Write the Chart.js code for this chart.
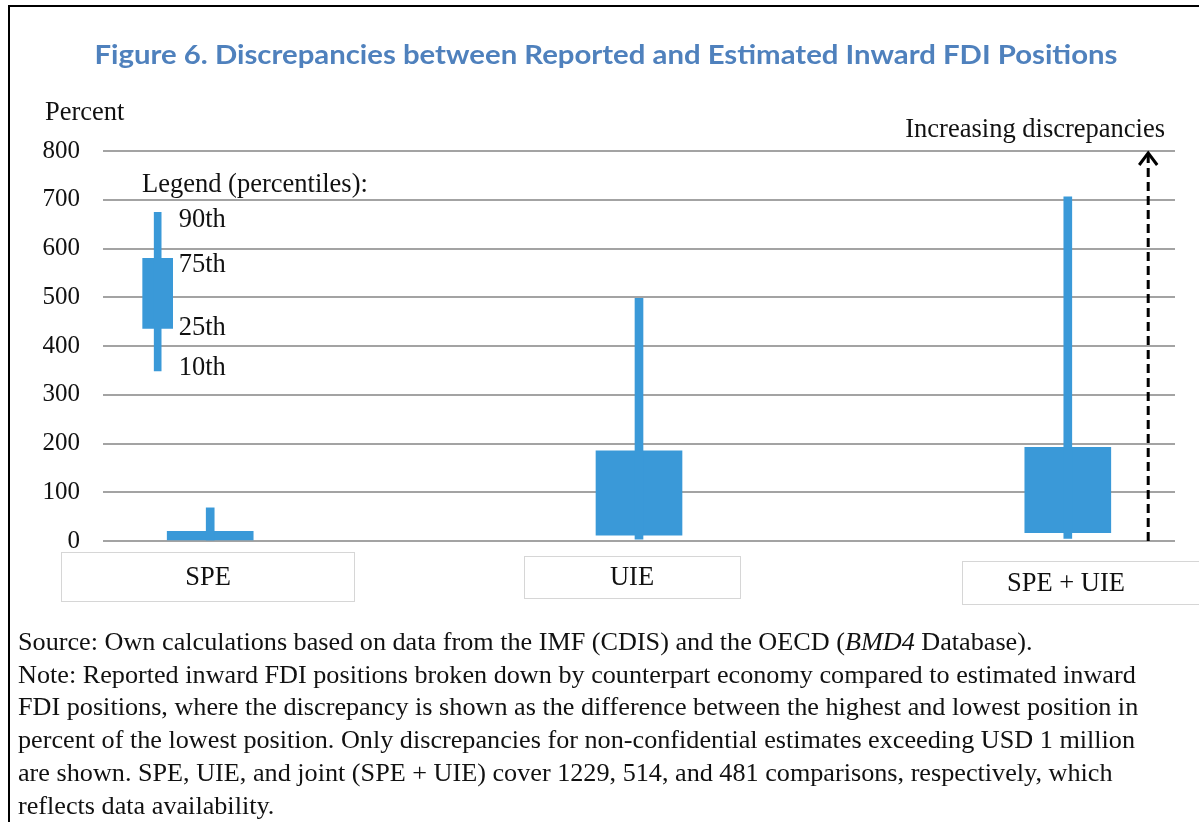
<!DOCTYPE html>
<html>
<head>
<meta charset="utf-8">
<script src="https://cdn.jsdelivr.net/npm/chart.js@4.4.0/dist/chart.umd.min.js"></script>
<style>
html, body { margin: 0; padding: 0; background: #fff; }
body { width: 1199px; height: 822px; position: relative; overflow: hidden; }
#frame { position: absolute; left: 8px; top: 5px; right: -10px; bottom: -10px;
         border-left: 2px solid #000; border-top: 2px solid #000; }
#cv { position: absolute; left: 0; top: 0; }
#note { position: absolute; left: 18px; top: 626px; color: #111; white-space: nowrap;
        font-family: "Liberation Serif", "Times New Roman", serif; font-size: 26.2px; line-height: 32.7px; }
</style>
</head>
<body>
<div id="frame"></div>
<canvas id="cv" width="1199" height="822"></canvas>
<div id="note">Source: Own calculations based on data from the IMF (CDIS) and the OECD (<i>BMD4</i> Database).<br>Note: Reported inward FDI positions broken down by counterpart economy compared to estimated inward<br>FDI positions, where the discrepancy is shown as the difference between the highest and lowest position in<br>percent of the lowest position. Only discrepancies for non-confidential estimates exceeding USD 1 million<br>are shown. SPE, UIE, and joint (SPE + UIE) cover 1229, 514, and 481 comparisons, respectively, which<br>reflects data availability.</div>
<script>
// data (percent)
var Categories = ['SPE', 'UIE', 'SPE + UIE'];
var CategoryPos = [0.1, 0.5, 0.9];
var P10 = [0, 3.5, 5.5];
var P25 = [0, 12, 17];
var P75 = [20, 185, 192];
var P90 = [68, 498, 706];

// legend example box
var LegendPos = 0.051;
var LegendLabels = ['10th', '25th', '75th', '90th'];
var LegendValues = [349, 436, 580, 674];

var YTicks = [0, 100, 200, 300, 400, 500, 600, 700, 800];
var ArrowPos = 0.975;

var TitleText = 'Figure 6. Discrepancies between Reported and Estimated Inward FDI Positions';
var BoxColor = '#3a99d8';
var SerifFont = '"Liberation Serif", "Times New Roman", serif';

// label boxes under the chart (page pixels)
var LabelBoxes = [
    { x: 61, y: 552, w: 293, h: 49, tx: 208, ty: 578 },
    { x: 524, y: 556, w: 216, h: 42, tx: 632, ty: 578 },
    { x: 962, y: 561, w: 237, h: 43, tx: 1066, ty: 584 }
];

function pairs(pos, lo, hi) {
    var out = [];
    for (var i = 0; i < lo.length; i++) {
        out.push({ x: pos[i], y: [lo[i], hi[i]] });
    }
    return out;
}

var overlay = {
    id: 'overlay',
    afterDraw: function (chart) {
        var ctx = chart.ctx;
        var xs = chart.scales.x, ys = chart.scales.y;
        ctx.save();

        // title, squeezed to the width of the original heading
        ctx.font = 'bold 26px Lato';
        ctx.fillStyle = '#4f81bd';
        ctx.textAlign = 'center';
        ctx.textBaseline = 'alphabetic';
        var w = ctx.measureText(TitleText).width;
        ctx.save();
        ctx.translate(606, 64);
        ctx.scale(1023 / w, 1);
        ctx.fillText(TitleText, 0, 0);
        ctx.restore();

        ctx.fillStyle = '#111';
        ctx.font = '26.5px ' + SerifFont;
        ctx.textBaseline = 'middle';
        ctx.textAlign = 'left';
        ctx.fillText('Percent', 45, 113);
        ctx.fillText('Legend (percentiles):', 142, 185);

        // legend labels
        var lx = xs.getPixelForValue(LegendPos) + 21;
        var shift = [-3, 0, 7, 8];
        for (var i = 0; i < LegendLabels.length; i++) {
            ctx.fillText(LegendLabels[i], lx, ys.getPixelForValue(LegendValues[i]) + shift[i]);
        }

        ctx.textAlign = 'right';
        ctx.fillText('Increasing discrepancies', 1165, 130);

        // dashed arrow
        var ax = xs.getPixelForValue(ArrowPos);
        ctx.strokeStyle = '#000';
        ctx.lineWidth = 3;
        ctx.setLineDash([9, 5]);
        ctx.beginPath();
        ctx.moveTo(ax, ys.getPixelForValue(0));
        ctx.lineTo(ax, ys.getPixelForValue(800) + 3);
        ctx.stroke();
        ctx.setLineDash([]);
        ctx.beginPath();
        ctx.moveTo(ax - 9, ys.getPixelForValue(800) + 14);
        ctx.lineTo(ax, ys.getPixelForValue(800) + 2);
        ctx.lineTo(ax + 9, ys.getPixelForValue(800) + 14);
        ctx.stroke();

        // category label boxes
        ctx.lineWidth = 1;
        ctx.strokeStyle = '#d6d6d6';
        ctx.textAlign = 'center';
        for (var k = 0; k < Categories.length; k++) {
            var b = LabelBoxes[k];
            ctx.strokeRect(b.x + 0.5, b.y + 0.5, b.w, b.h);
            ctx.fillText(Categories[k], b.tx, b.ty);
        }
        ctx.restore();
    }
};

var chart = new Chart(document.getElementById('cv'), {
    type: 'bar',
    data: {
        datasets: [
            { data: pairs(CategoryPos, P10, P90), backgroundColor: BoxColor, barThickness: 8, stack: 's' },
            { data: pairs(CategoryPos, P25, P75), backgroundColor: BoxColor, barThickness: 86, stack: 's' },
            { data: [{ x: LegendPos, y: [LegendValues[0], LegendValues[3]] }], backgroundColor: BoxColor, barThickness: 7, stack: 's' },
            { data: [{ x: LegendPos, y: [LegendValues[1], LegendValues[2]] }], backgroundColor: BoxColor, barThickness: 30, stack: 's' }
        ]
    },
    options: {
        responsive: false,
        animation: false,
        layout: { padding: { left: 0, right: 24, top: 151, bottom: 281 } },
        plugins: { legend: { display: false }, tooltip: { enabled: false } },
        scales: {
            x: { type: 'linear', min: 0, max: 1, offset: false, display: false },
            y: {
                min: 0, max: 800, stacked: false,
                afterBuildTicks: function (s) { s.ticks = YTicks.map(function (v) { return { value: v }; }); },
                afterFit: function (s) { s.width = 103; },
                border: { display: false },
                grid: { color: '#a3a3a3', lineWidth: 2, drawTicks: false },
                ticks: { padding: 23, color: '#111', font: { family: SerifFont, size: 25 } }
            }
        }
    },
    plugins: [overlay]
});
</script>
</body>
</html>
